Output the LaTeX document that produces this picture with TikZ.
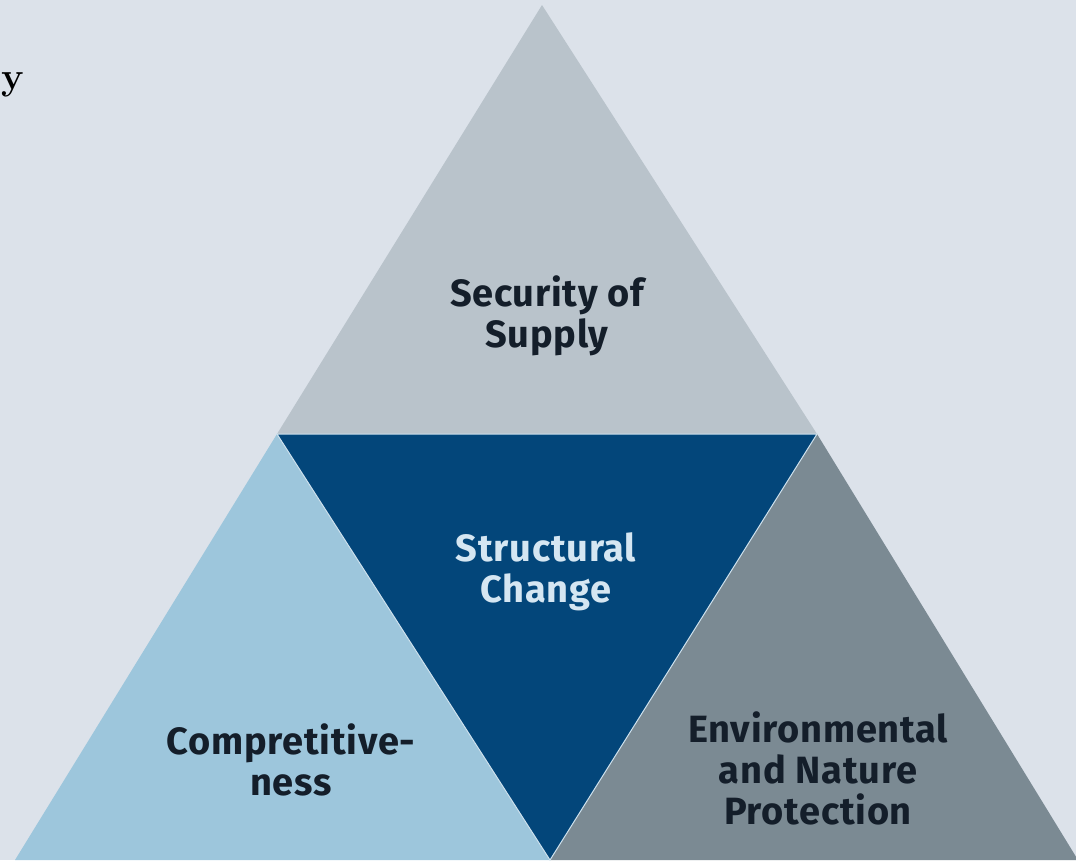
\documentclass[tikz,border=0pt]{standalone}
\usepackage{fontspec}
\newfontfamily\lblfont[LetterSpace=2]{Fira Sans}
\definecolor{bg}{HTML}{DCE2EA}
\definecolor{topc}{HTML}{B9C3CB}
\definecolor{leftc}{HTML}{9DC6DC}
\definecolor{midc}{HTML}{03467A}
\definecolor{rightc}{HTML}{7B8A93}
\definecolor{txt}{HTML}{141E2A}
\definecolor{ctxt}{HTML}{D5E6F2}
\definecolor{edge}{HTML}{CFE2EE}
\begin{document}
\begin{tikzpicture}[x=1pt,y=-1pt,
  lbl/.style={font=\lblfont\bfseries\fontsize{38}{41}\selectfont, align=center, text=txt},
  part/.style={draw=edge, line width=1pt, line join=miter}]
\fill[bg] (0,0) rectangle (1076,860);
\useasboundingbox (0,0) rectangle (1076,860);
\clip (0,0) rectangle (1076,860);
\coordinate (A) at (542,5);
\coordinate (L) at (277,434);
\coordinate (R) at (817,434);
\coordinate (BL) at (15,860);
\coordinate (BR) at (1078,860);
\coordinate (BM) at (550,860);
\fill[topc] (A) -- (L) -- (R) -- cycle;
\fill[leftc] (L) -- (BL) -- (BM) -- cycle;
\fill[rightc] (R) -- (BM) -- (BR) -- cycle;
\filldraw[midc, part] (L) -- (R) -- (BM) -- cycle;
\node[lbl] (sec) at (547,316) {Security of\\Supply};
\node[lbl, text=ctxt] (str) at (546,572) {Structural\\Change};
\node[lbl] (comp) at (291,760) {Compretitive-\\ness};
\node[lbl] (env) at (818,768) {Environmental\\and Nature\\Protection};
\node[font=\bfseries\fontsize{38}{42}\selectfont, text=black, anchor=base west, inner sep=0pt] (y) at (1,89) {y};
\end{tikzpicture}
\end{document}
